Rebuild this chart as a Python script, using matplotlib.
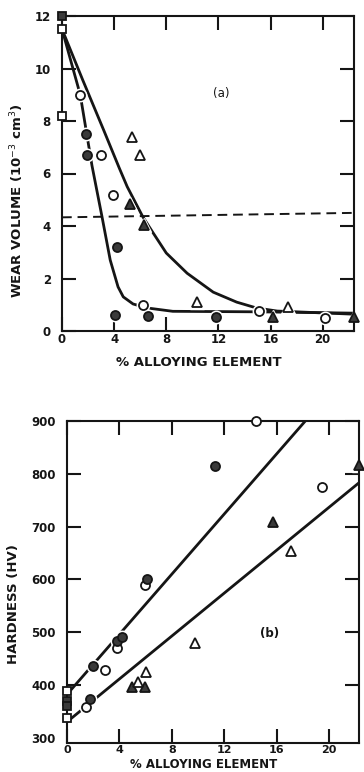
import numpy as np
import matplotlib
matplotlib.use("Agg")
import matplotlib.pyplot as plt

# (a) wear volume, 10^-3 cm^3, against % alloying element
wear_fill_circ_x = [1.84, 1.9, 4.2, 4.1, 6.6, 11.8]
wear_fill_circ_y = [7.5, 6.7, 3.2, 0.62, 0.59, 0.52]
wear_open_circ_x = [1.4, 3.0, 3.9, 6.2, 15.1, 20.2]
wear_open_circ_y = [9.0, 6.7, 5.2, 1.0, 0.78, 0.5]
wear_fill_tri_x = [5.25, 6.3, 16.2, 22.4]
wear_fill_tri_y = [4.82, 4.05, 0.55, 0.55]
wear_open_tri_x = [5.4, 6.0, 10.35, 17.3]
wear_open_tri_y = [7.4, 6.7, 1.12, 0.92]
wear_fill_sq_y = [12.0]
wear_open_sq_y = [11.5, 8.2]

# hand-drawn trend curves through the wear data
fast_curve_x = [0, 1.4, 2.3, 3.07, 3.7, 4.3, 4.7, 5.45, 6.5, 8.5, 15.2, 22.4]
fast_curve_y = [11.5, 9.0, 6.3, 4.35, 2.7, 1.68, 1.3, 1.03, 0.88, 0.75, 0.73, 0.68]
slow_curve_x = [0, 1.6, 3.2, 4.4, 5.0, 6.2, 7.0, 8.0, 9.6, 11.6, 13.4, 14.9, 16.5, 22.4]
slow_curve_y = [11.5, 9.55, 7.65, 6.2, 5.5, 4.35, 3.73, 2.97, 2.2, 1.48, 1.1, 0.88, 0.76, 0.64]
dash_x = [0, 22.4]
dash_y = [4.33, 4.5]

# (b) hardness HV against % alloying element
hv_fill_circ_x = [1.75, 2.0, 3.8, 4.2, 6.1, 11.3]
hv_fill_circ_y = [373, 436, 483, 490, 600, 815]
hv_open_circ_x = [1.45, 2.9, 3.8, 5.95, 14.4, 19.5]
hv_open_circ_y = [358, 428, 470, 590, 900, 775]
hv_fill_tri_x = [4.95, 5.95, 15.7, 22.3]
hv_fill_tri_y = [396, 396, 709, 817]
hv_open_tri_x = [5.4, 6.0, 9.8, 17.1]
hv_open_tri_y = [405, 425, 479, 653]
hv_fill_sq_y = [370, 360]
hv_open_sq_y = [389, 337]

hv_line1_x = [0, 18.2]
hv_line1_y = [382, 900]
hv_line2_x = [0, 22.3]
hv_line2_y = [330, 783]

W, H = 364, 772
INK = "#151515"
DARK = "#3a3a3a"

fig = plt.figure(figsize=(W / 100, H / 100), dpi=100)
fig.patch.set_facecolor("white")


def px_box(l, r, t, b):
    return [l / W, 1 - b / H, (r - l) / W, (b - t) / H]


def style_axes(ax, xsize=8.5):
    for s in ax.spines.values():
        s.set_linewidth(1.5)
        s.set_color(INK)
    ax.tick_params(direction="in", length=10, width=1.5, color=INK,
                   top=True, right=True, labelsize=8.5)
    ax.tick_params(axis="y", pad=8)
    ax.tick_params(axis="x", pad=1.5, labelsize=xsize)
    for lab in ax.get_xticklabels() + ax.get_yticklabels():
        lab.set_fontweight("bold")
        lab.set_color(INK)


def pts(ax, x, y, marker, filled, size, halo=True):
    # white halo under the symbol (but under the spines) breaks the curves
    if halo:
        ax.plot(x, y, linestyle="none", marker=marker, ms=size + 2.5, mfc="white",
                mec="white", zorder=2.2, clip_on=False)
    ax.plot(x, y, linestyle="none", marker=marker, ms=size,
            mfc=DARK if filled else "white", mec=INK, mew=1.3,
            zorder=4, clip_on=False)


# ---- panel (a)
ax1 = fig.add_axes(px_box(62, 354, 16, 331))
ax1.plot(fast_curve_x, fast_curve_y, color=INK, lw=2.0, zorder=2)
ax1.plot(slow_curve_x, slow_curve_y, color=INK, lw=2.0, zorder=2)
ax1.plot(dash_x, dash_y, color=INK, lw=1.4, ls=(0, (5, 3)), zorder=2)
pts(ax1, wear_open_tri_x, wear_open_tri_y, "^", False, 7.5)
pts(ax1, wear_fill_tri_x, wear_fill_tri_y, "^", True, 7.5)
pts(ax1, wear_open_circ_x, wear_open_circ_y, "o", False, 6.5)
pts(ax1, wear_fill_circ_x, wear_fill_circ_y, "o", True, 6.5)
pts(ax1, [0] * len(wear_open_sq_y), wear_open_sq_y, "s", False, 6, halo=False)
pts(ax1, [0] * len(wear_fill_sq_y), wear_fill_sq_y, "s", True, 6, halo=False)
ax1.set_xlim(0, 22.4)
ax1.set_ylim(0, 12)
ax1.set_xticks([0, 4, 8, 12, 16, 20])
ax1.set_yticks([0, 2, 4, 6, 8, 10, 12])
style_axes(ax1)
ax1.text(12.2, 9.05, "(a)", fontsize=8.5, color=INK, ha="center", va="center")

# ---- panel (b)
ax2 = fig.add_axes(px_box(67, 359, 421, 743))
ax2.plot(hv_line1_x, hv_line1_y, color=INK, lw=2.0, zorder=2)
ax2.plot(hv_line2_x, hv_line2_y, color=INK, lw=2.0, zorder=2)
pts(ax2, hv_open_circ_x, hv_open_circ_y, "o", False, 6.5)
pts(ax2, hv_fill_circ_x, hv_fill_circ_y, "o", True, 6.5)
pts(ax2, [0] * len(hv_open_sq_y), hv_open_sq_y, "s", False, 6, halo=False)
pts(ax2, [0] * len(hv_fill_sq_y), hv_fill_sq_y, "s", True, 6, halo=False)
pts(ax2, hv_fill_tri_x, hv_fill_tri_y, "^", True, 7.5)
pts(ax2, hv_open_tri_x, hv_open_tri_y, "^", False, 7.5)
ax2.set_xlim(0, 22.3)
ax2.set_ylim(290, 900)
ax2.set_xticks([0, 4, 8, 12, 16, 20])
ax2.set_yticks([300, 400, 500, 600, 700, 800, 900])
style_axes(ax2, xsize=8)
ax2.yaxis.get_major_ticks()[0].tick1line.set_visible(False)
ax2.yaxis.get_major_ticks()[0].tick2line.set_visible(False)
ax2.text(15.5, 497, "(b)", fontsize=8.5, fontweight="bold", color=INK,
         ha="center", va="center")

# axis titles
lab_kw = dict(fontsize=9.5, fontweight="bold", color=INK, ha="center", va="center")
fig.text(17 / W, 1 - 201 / H, r"WEAR VOLUME (10$^{-3}$ cm$^{3}$)", rotation=90, **lab_kw)
fig.text(14 / W, 1 - 604 / H, "HARDNESS (HV)", rotation=90, **lab_kw)
fig.text(199 / W, 1 - 362 / H, "% ALLOYING ELEMENT", **lab_kw)
fig.text(204 / W, 1 - 771 / H, "% ALLOYING ELEMENT", fontsize=8.5,
         fontweight="bold", color=INK, ha="center", va="bottom")

fig.savefig("out.png", dpi=100, facecolor="white")
